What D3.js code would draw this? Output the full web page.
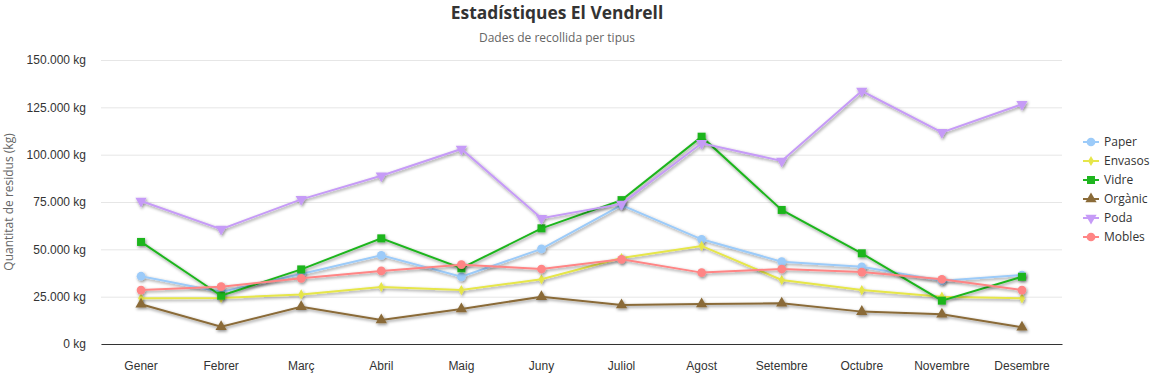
<!DOCTYPE html>
<html>
<head>
<meta charset="utf-8">
<script src="https://cdn.jsdelivr.net/npm/d3@7"></script>
<style>
  body { margin: 0; background: #fff; }
  svg { font-family: "Open Sans", sans-serif; }
</style>
</head>
<body>
<svg id="chart"></svg>
<script>
const width = 1158;
const height = 377;
const margin = { left: 101, right: 96, top: 60, bottom: 33 };

// months shown on the x axis
const months = ['Gener', 'Febrer', 'Març', 'Abril', 'Maig', 'Juny', 'Juliol', 'Agost', 'Setembre', 'Octubre', 'Novembre', 'Desembre'];
const yTicks = [0, 25000, 50000, 75000, 100000, 125000, 150000];

// values (kg)
const paper   = [35800, 27500, 37000, 46800, 35500, 50200, 73400, 55300, 43500, 40800, 33400, 36400];
const envasos = [24100, 24300, 26200, 30100, 28500, 34200, 45400, 51800, 33800, 28500, 25000, 24100];
const vidre   = [53900, 25500, 39400, 55800, 40000, 61100, 76000, 109500, 70800, 47900, 22900, 35500];
const organic = [21000, 9100, 19700, 12700, 18500, 25000, 20600, 21100, 21500, 17100, 15700, 8800];
const poda    = [75500, 60700, 76400, 88900, 103000, 66400, 74000, 106000, 96700, 133600, 111800, 126600];
const mobles  = [28500, 30300, 34700, 38600, 41900, 39600, 44700, 37700, 39600, 38000, 34200, 28500];

const seriesNames = ['Paper', 'Envasos', 'Vidre', 'Orgànic', 'Poda', 'Mobles'];
const seriesValues = [paper, envasos, vidre, organic, poda, mobles];
const seriesColors = ['#9ccbf9', '#e6e64a', '#1fb51f', '#8a6b38', '#c69bf7', '#ff8585'];
const seriesSymbols = [d3.symbolCircle, d3.symbolDiamond, d3.symbolSquare, d3.symbolTriangle, d3.symbolTriangle, d3.symbolCircle];
const symbolRotate = [0, 0, 0, 0, 180, 0];
const symbolSize = [60, 30, 64, 55, 55, 60];

const svg = d3.select('#chart').attr('width', width).attr('height', height);

// soft drop shadow under the lines
const defs = svg.append('defs');
defs.append('filter').attr('id', 'shadow')
    .attr('x', '-10%').attr('y', '-10%').attr('width', '120%').attr('height', '130%')
  .append('feDropShadow')
    .attr('dx', 1).attr('dy', 1.5).attr('stdDeviation', 1.4)
    .attr('flood-color', '#000').attr('flood-opacity', 0.45);

const x = d3.scaleBand().domain(months).range([margin.left, width - margin.right]);
const y = d3.scaleLinear().domain([0, 150000]).range([height - margin.bottom, margin.top]);

// title
svg.append('text')
    .attr('x', 557).attr('y', 18.5)
    .attr('text-anchor', 'middle')
    .attr('font-size', 17.4).attr('font-weight', 'bold').attr('fill', '#333')
    .text('Estadístiques El Vendrell');
svg.append('text')
    .attr('x', 557).attr('y', 42)
    .attr('text-anchor', 'middle')
    .attr('font-size', 12).attr('fill', '#666')
    .text('Dades de recollida per tipus');

// y grid + labels
const fmt = d => d3.format(',')(d).replace(/,/g, '.') + ' kg';
const yAxis = svg.append('g')
    .attr('transform', `translate(${margin.left},0)`)
    .call(d3.axisLeft(y).tickValues(yTicks).tickFormat(fmt)
        .tickSize(-(width - margin.left - margin.right)).tickPadding(15));
yAxis.select('.domain').remove();
yAxis.selectAll('.tick line').attr('stroke', '#e6e6e6');
yAxis.selectAll('.tick text').attr('font-size', 12).attr('fill', '#333').attr('font-family', null);

svg.append('text')
    .attr('transform', `translate(13,${(margin.top + height - margin.bottom) / 2}) rotate(-90)`)
    .attr('text-anchor', 'middle')
    .attr('font-size', 12).attr('fill', '#666')
    .text('Quantitat de residus (kg)');

// x axis
const xAxis = svg.append('g')
    .attr('transform', `translate(0,${height - margin.bottom})`)
    .call(d3.axisBottom(x).tickSize(0).tickPadding(17));
xAxis.select('.domain').attr('stroke', '#333').attr('stroke-width', 1.2);
xAxis.selectAll('.tick text').attr('font-size', 12).attr('fill', '#333').attr('font-family', null);

// lines
const line = d3.line()
    .x((d, i) => x(months[i]) + x.bandwidth() / 2)
    .y(d => y(d));

const groups = svg.append('g').selectAll('g.series')
    .data(seriesValues)
    .join('g')
    .attr('class', 'series')
    .attr('filter', 'url(#shadow)');

groups.append('path')
    .attr('d', d => line(d))
    .attr('fill', 'none')
    .attr('stroke', (d, i) => seriesColors[i])
    .attr('stroke-width', 2);

groups.each(function (vals, s) {
    d3.select(this).selectAll('path.pt')
        .data(vals)
        .join('path')
        .attr('class', 'pt')
        .attr('d', d3.symbol().type(seriesSymbols[s]).size(symbolSize[s]))
        .attr('transform', (d, i) => `translate(${x(months[i]) + x.bandwidth() / 2},${y(d)}) rotate(${symbolRotate[s]})`)
        .attr('fill', seriesColors[s]);
});

// legend
const legend = svg.append('g').attr('transform', 'translate(1083,142)');
const items = legend.selectAll('g')
    .data(seriesNames)
    .join('g')
    .attr('transform', (d, i) => `translate(0,${i * 19})`);
items.append('line')
    .attr('x1', 0).attr('x2', 16).attr('y1', 0).attr('y2', 0)
    .attr('stroke', (d, i) => seriesColors[i]).attr('stroke-width', 2);
items.append('path')
    .attr('d', (d, i) => d3.symbol().type(seriesSymbols[i]).size(symbolSize[i])())
    .attr('transform', (d, i) => `translate(8,0) rotate(${symbolRotate[i]})`)
    .attr('fill', (d, i) => seriesColors[i]);
items.append('text')
    .attr('x', 21).attr('dy', '0.35em')
    .attr('font-size', 12).attr('fill', '#333')
    .text(d => d);
</script>
</body>
</html>
